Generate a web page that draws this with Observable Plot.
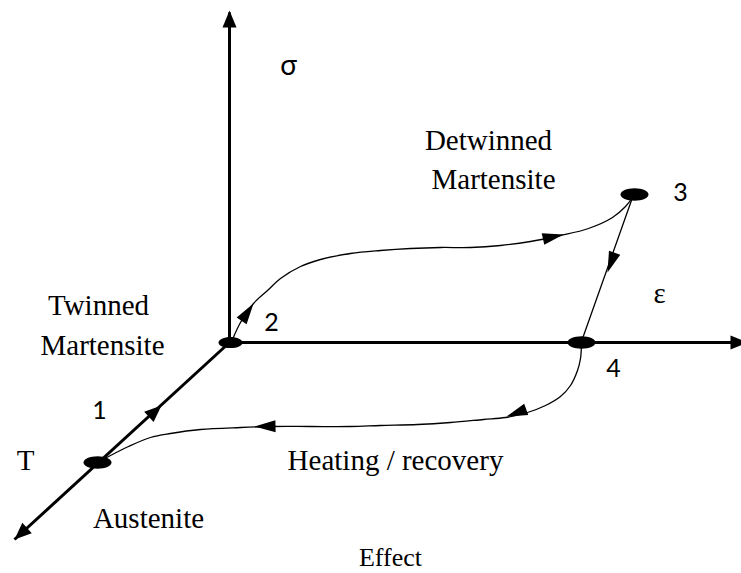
<!DOCTYPE html>
<html>
<head>
<meta charset="utf-8">
<script src="https://cdn.jsdelivr.net/npm/d3@7"></script>
<script src="https://cdn.jsdelivr.net/npm/@observablehq/plot@0.6"></script>
<style>
  html, body { margin: 0; padding: 0; background: #fff; overflow: hidden; }
  #chart svg { display: block; overflow: hidden; }
  #chart .serif-text text { font-family: "Liberation Serif", "DejaVu Serif", serif !important; }
  #chart .sans-text text { font-family: Lato, "Open Sans", "Liberation Sans", sans-serif !important; }
</style>
</head>
<body>
<div id="chart"></div>
<script>
// ---- Diagram data (diagram coordinates, origin top-left) ----
// Axes: sigma (up), epsilon (right), T (down-left)
const axisName = ["sigma", "sigma", "eps", "eps", "T", "T"];
const axisX    = [229, 229, 229, 745, 229, 14];
const axisY    = [342, 12, 342, 342, 342, 539];

// State points 1..4 (1 = austenite, 2 = origin / twinned martensite)
const stateLabel = ["1", "2", "3", "4"];
const stateX = [97, 230, 634, 581];
const stateY = [462, 342, 194, 342];

// Loading path 2 -> 3
const path23X = [232, 240, 253, 267, 280, 300, 320, 350, 380, 410, 440, 470, 500, 530, 560, 588, 612, 625, 632];
const path23Y = [339, 322, 303, 290, 278, 266, 259, 253, 250, 248, 247, 247, 245, 241, 235, 228, 217, 206, 197];

// Unloading 3 -> 4
const path34X = [632, 581];
const path34Y = [197, 341];

// Heating / recovery 4 -> 1
const path41X = [581, 580, 577, 570, 560, 545, 527, 505, 483, 450, 417, 380, 350, 310, 273, 240, 200, 170, 150, 128, 110, 99];
const path41Y = [343, 358, 370, 385, 396, 405, 412, 417, 419, 422, 424, 425, 426, 426, 426, 427, 429, 433, 437, 446, 455, 461];

// Arrowheads (tip position + heading in degrees, 0 = up, clockwise)
const headX     = [229, 14, 747, 161, 253, 563, 607, 506, 254];
const headY     = [10, 539, 342, 405, 303, 234, 272, 416, 426];
const headAngle = [0, 227.6, 90, 47.9, 34.4, 77.6, 199.8, 250, 269];
const headKind  = ["axis", "axis", "axis", "axis", "thin", "thin", "thin", "thin", "thin"];

// Text labels
const numText = ["1", "2", "3", "4"];
const numX    = [99, 271, 680, 613];
const numY    = [410, 322, 192, 368];

const greekText = ["σ"];
const greekX = [288];
const greekY = [66];

const serifText = ["Detwinned", "Martensite", "Twinned", "Martensite", "T", "Austenite", "Heating / recovery", "ε"];
const serifX    = [488, 493, 98, 102, 25, 148, 395, 659];
const serifY    = [140, 179, 305, 345, 460, 518, 460, 293];

const captionText = ["Effect"];
const captionX = [390];
const captionY = [557];

// ---- Build tables ----
const axes = axisName.map((n, i) => ({n, x: axisX[i], y: axisY[i]}));
const states = stateLabel.map((s, i) => ({s, x: stateX[i], y: stateY[i], origin: s === "2"}));
const p23 = path23X.map((x, i) => ({x, y: path23Y[i]}));
const p34 = path34X.map((x, i) => ({x, y: path34Y[i]}));
const p41 = path41X.map((x, i) => ({x, y: path41Y[i]}));
const heads = headX.map((x, i) => ({x, y: headY[i], a: headAngle[i], k: headKind[i]}));
const nums = numText.map((t, i) => ({t, x: numX[i], y: numY[i]}));
const greeks = greekText.map((t, i) => ({t, x: greekX[i], y: greekY[i]}));
const serifs = serifText.map((t, i) => ({t, x: serifX[i], y: serifY[i]}));
const captions = captionText.map((t, i) => ({t, x: captionX[i], y: captionY[i]}));

// ---- Custom symbols ----
function ellipseSymbol(rx, ry) {
  const k = 0.5523;
  return {
    draw(ctx) {
      ctx.moveTo(rx, 0);
      ctx.bezierCurveTo(rx, ry * k, rx * k, ry, 0, ry);
      ctx.bezierCurveTo(-rx * k, ry, -rx, ry * k, -rx, 0);
      ctx.bezierCurveTo(-rx, -ry * k, -rx * k, -ry, 0, -ry);
      ctx.bezierCurveTo(rx * k, -ry, rx, -ry * k, rx, 0);
      ctx.closePath();
    }
  };
}
function headSymbol(len, hw) {
  return {
    draw(ctx) {
      ctx.moveTo(0, 0);
      ctx.lineTo(-hw, len);
      ctx.lineTo(hw, len);
      ctx.closePath();
    }
  };
}

const SERIF = "Liberation Serif, DejaVu Serif, serif";
const SANS = "Lato, Open Sans, Liberation Sans, sans-serif";

const W = 741, H = 573;
const chart = Plot.plot({
  width: W,
  height: H,
  margin: 0,
  x: {domain: [0, W], range: [0, W], axis: null},
  y: {domain: [0, H], range: [0, H], axis: null},
  marks: [
    Plot.line(axes, {x: "x", y: "y", z: "n", stroke: "black", strokeWidth: 3, strokeLinecap: "butt"}),
    Plot.line(p23, {x: "x", y: "y", curve: "catmull-rom", stroke: "black", strokeWidth: 1.3}),
    Plot.line(p34, {x: "x", y: "y", stroke: "black", strokeWidth: 1.3}),
    Plot.line(p41, {x: "x", y: "y", curve: "catmull-rom", stroke: "black", strokeWidth: 1.3}),
    Plot.dot(heads.filter(d => d.k === "axis"), {x: "x", y: "y", rotate: "a", symbol: headSymbol(17, 7), fill: "black", stroke: "none"}),
    Plot.dot(heads.filter(d => d.k === "thin"), {x: "x", y: "y", rotate: "a", symbol: headSymbol(21, 6), fill: "black", stroke: "none"}),
    Plot.dot(states.filter(d => !d.origin), {x: "x", y: "y", symbol: ellipseSymbol(14, 6.2), fill: "black", stroke: "none"}),
    Plot.dot(states.filter(d => d.origin), {x: "x", y: "y", symbol: ellipseSymbol(12, 5.6), fill: "black", stroke: "none"}),
    Plot.text(nums, {x: "x", y: "y", text: "t", fontFamily: SANS, fontSize: 25, fill: "black", ariaLabel: "sans-num"}),
    Plot.text(greeks, {x: "x", y: "y", text: "t", fontFamily: SANS, fontSize: 28, fill: "black", ariaLabel: "sans-greek"}),
    Plot.text(serifs, {x: "x", y: "y", text: "t", fontFamily: SERIF, fontSize: 29, fill: "black", ariaLabel: "serif-labels"}),
    Plot.text(captions, {x: "x", y: "y", text: "t", fontFamily: SERIF, fontSize: 26, fill: "black", ariaLabel: "serif-caption"})
  ]
});
// make sure the font families win over any inherited styling
chart.querySelectorAll('g[aria-label^="serif"]').forEach(g => g.classList.add("serif-text"));
chart.querySelectorAll('g[aria-label^="sans"]').forEach(g => g.classList.add("sans-text"));
document.getElementById("chart").appendChild(chart);
</script>
</body>
</html>
